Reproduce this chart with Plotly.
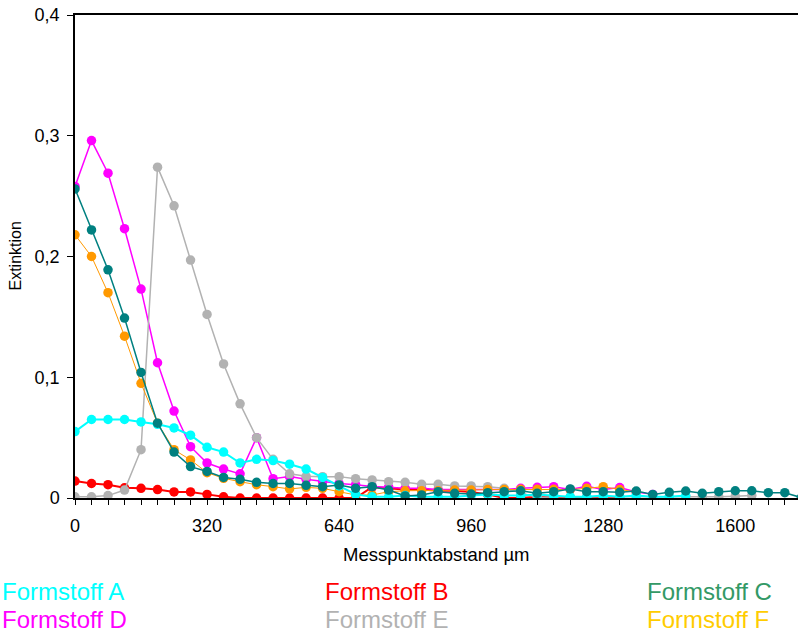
import plotly.graph_objects as go

# Messpunktabstand in µm (category positions)
abstand = [0, 40, 80, 120, 160, 200, 240, 280, 320, 360, 400, 440, 480, 520, 560,
           600, 640, 680, 720, 760, 800, 840, 880, 920, 960, 1000, 1040, 1080, 1120,
           1160, 1200, 1240, 1280, 1320, 1360, 1400, 1440, 1480, 1520, 1560, 1600,
           1640, 1680, 1720, 1760]

formstoff_a = [0.055, 0.065, 0.065, 0.065, 0.063, 0.061, 0.058, 0.052, 0.042, 0.038,
               0.029, 0.032, 0.031, 0.028, 0.024, 0.017, 0.010, 0.003, 0.001, 0.001,
               0.002, 0.001, 0.001, 0.001, 0.002, 0.003, 0.002, 0.002, 0.003, 0.002,
               0.001, 0.001, 0.002, 0.001, 0.002, 0.001, 0.001, 0.002]
formstoff_b = [0.014, 0.012, 0.011, 0.0085, 0.008, 0.007, 0.005, 0.005, 0.003, 0.001,
               0.0, 0.0, 0.0, 0.0, 0.0, 0.0, 0.0, 0.0, 0.009, 0.008,
               0.007, 0.007, 0.006, 0.006, 0.005, 0.003, 0.0, 0.0, 0.001, 0.001,
               0.0, 0.0, 0.0, 0.0]
formstoff_c = [0.256, 0.222, 0.189, 0.149, 0.104, 0.062, 0.038, 0.026, 0.022, 0.017,
               0.0155, 0.013, 0.012, 0.012, 0.0105, 0.0094, 0.0108, 0.008, 0.0094, 0.0066,
               0.0017, 0.0025, 0.0052, 0.0039, 0.0033, 0.0044, 0.0052, 0.006, 0.0039, 0.0052,
               0.0075, 0.0052, 0.0052, 0.0047, 0.0058, 0.003, 0.0047, 0.0058, 0.0039, 0.0052,
               0.006, 0.006, 0.0044, 0.0044, 0.0003]
formstoff_d = [0.258, 0.296, 0.269, 0.223, 0.173, 0.112, 0.072, 0.0425, 0.029, 0.024,
               0.020, 0.050, 0.016, 0.0177, 0.0155, 0.0135, 0.012, 0.011, 0.0095, 0.009,
               0.008, 0.008, 0.007, 0.007, 0.007, 0.007, 0.007, 0.008, 0.0088, 0.0094,
               0.007, 0.0097, 0.007, 0.0087, 0.005, 0.003]
formstoff_e = [0.001, 0.001, 0.002, 0.0066, 0.040, 0.274, 0.242, 0.197, 0.152, 0.111,
               0.078, 0.050, 0.032, 0.020, 0.018, 0.0177, 0.0177, 0.016, 0.015, 0.0135,
               0.013, 0.0113, 0.0113, 0.010, 0.010, 0.0094, 0.008, 0.004, 0.0005, 0.001,
               0.001, 0.001, 0.0005, 0.001, 0.001, 0.001, 0.001, 0.001, 0.001, 0.001,
               0.0015, 0.002]
formstoff_f = [0.218, 0.200, 0.170, 0.134, 0.095, 0.062, 0.040, 0.0315, 0.021, 0.0163,
               0.0135, 0.011, 0.0094, 0.0075, 0.0088, 0.008, 0.0052, 0.0025, 0.0025, 0.0052,
               0.006, 0.006, 0.006, 0.0066, 0.0066, 0.007, 0.007, 0.0072, 0.0072, 0.0072,
               0.007, 0.008, 0.0094, 0.007, 0.005]

y_ticks = [0, 0.1, 0.2, 0.3, 0.4]
y_ticktext = ["0", "0,1", "0,2", "0,3", "0,4"]
x_label_every = [0, 320, 640, 960, 1280, 1600]

series = [
    # name, data, line colour, legend colour, width
    ("Formstoff B", formstoff_b, "#FF0000", "#FF0000", 2),
    ("Formstoff D", formstoff_d, "#FF00FF", "#FF00FF", 1.5),
    ("Formstoff E", formstoff_e, "#B2B2B2", "#B2B2B2", 1.5),
    ("Formstoff F", formstoff_f, "#FF9900", "#FFCC00", 1),
    ("Formstoff A", formstoff_a, "#00FFFF", "#00FFFF", 2),
    ("Formstoff C", formstoff_c, "#008080", "#339966", 1.5),
]

fig = go.Figure()
for name, data, col, _, w in series:
    fig.add_trace(go.Scatter(
        x=abstand[:len(data)], y=data, mode="lines+markers", name=name,
        line=dict(color=col, width=w),
        marker=dict(color=col, size=9.5),
        showlegend=False, cliponaxis=True,
    ))

fnt = "Liberation Sans, Arial, sans-serif"
ticktext = [str(v) if v in x_label_every else "" for v in abstand]

fig.update_layout(
    width=798, height=634,
    margin=dict(l=75, r=0, t=15, b=136),
    paper_bgcolor="white", plot_bgcolor="white",
    font=dict(family=fnt, color="black", size=18),
    xaxis=dict(
        range=[0, 1752], tickvals=abstand, ticktext=ticktext,
        ticks="outside", ticklen=5, tickwidth=1.2, tickcolor="black",
        ticklabelstandoff=6,
        showline=True, linecolor="black", linewidth=1.5, mirror=True,
        showgrid=False, zeroline=False, tickfont=dict(size=18),
    ),
    yaxis=dict(
        range=[0, 0.4], tickvals=y_ticks, ticktext=y_ticktext,
        ticks="outside", ticklen=6, tickwidth=1.2, tickcolor="black",
        ticklabelstandoff=4,
        showline=True, linecolor="black", linewidth=1.5,
        showgrid=False, zeroline=False, tickfont=dict(size=18),
    ),
)

annos = [
    dict(text="Messpunktabstand µm", x=0.5, y=-0.118, xref="paper", yref="paper",
         xanchor="center", yanchor="middle", showarrow=False, font=dict(size=18.5)),
    dict(text="Extinktion", x=(15 - 75) / 723, y=0.5, xref="paper", yref="paper",
         textangle=-90, xanchor="center", yanchor="middle", showarrow=False,
         font=dict(size=16)),
]
legend_pos = {
    "Formstoff A": (0, 591), "Formstoff B": (323, 591), "Formstoff C": (645, 591),
    "Formstoff D": (0, 619), "Formstoff E": (323, 619), "Formstoff F": (645, 619),
}
legend_col = {s[0]: s[3] for s in series}
for name, (px, py) in legend_pos.items():
    annos.append(dict(
        text=name, x=(px - 75) / 723, y=(498 - py) / 483, xref="paper", yref="paper",
        xanchor="left", yanchor="middle", showarrow=False,
        font=dict(size=24, color=legend_col[name]),
    ))
fig.update_layout(annotations=annos)

fig.write_html(
    "out.html",
    config={"displayModeBar": False},
    post_script="document.body.style.margin='0';document.body.style.overflow='hidden';",
)
